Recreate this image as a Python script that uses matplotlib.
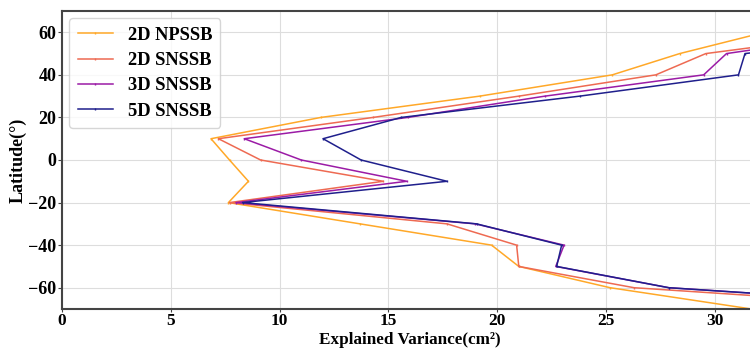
import numpy as np
import matplotlib.pyplot as plt

lat = [60, 50, 40, 30, 20, 10, 0, -10, -20, -30, -40, -50, -60, -70]

npssb_2d = [32.3, 28.4, 25.3, 19.2, 11.9, 6.85, 7.7, 8.57, 7.65, 13.7, 19.75, 21.0, 25.2, 31.7]
snssb_2d = [37.1, 29.6, 27.3, 21.0, 14.3, 7.19, 9.13, 14.77, 7.7, 17.7, 20.9, 21.0, 26.3, 41.1]
snssb_3d = [37.3, 30.55, 29.5, 22.2, 15.9, 8.38, 11.0, 15.85, 8.0, 19.0, 23.08, 22.7, 27.9, 42.8]
snssb_5d = [40.0, 31.4, 31.1, 23.8, 15.6, 12.0, 13.75, 17.7, 8.3, 19.06, 22.97, 22.74, 27.9, 42.8]

plt.rcParams['font.family'] = ['Liberation Serif', 'DejaVu Serif']
plt.rcParams['font.weight'] = 'bold'

fig = plt.figure(figsize=(7.5, 3.49), dpi=100)
ax = fig.add_axes([0.0827, 0.1146, 0.9173, 0.8539])

ax.plot(npssb_2d, lat, color='#FFA828', lw=1.1, marker='|', ms=2, label='2D NPSSB')
ax.plot(snssb_2d, lat, color='#EE6A52', lw=1.1, marker='|', ms=2, label='2D SNSSB')
ax.plot(snssb_3d, lat, color='#9B1BA6', lw=1.1, marker='|', ms=2, label='3D SNSSB')
ax.plot(snssb_5d, lat, color='#1F1F8C', lw=1.1, marker='|', ms=2, label='5D SNSSB')

ax.set_xlim(0, 31.63)
ax.set_ylim(-70, 70)
ax.set_xticks([0, 5, 10, 15, 20, 25, 30])
ax.set_yticks([-60, -40, -20, 0, 20, 40, 60])
ax.grid(True, color='#dddddd', lw=0.8)
ax.set_axisbelow(True)

for s in ['left', 'bottom', 'top']:
    ax.spines[s].set_color('#444444')
    ax.spines[s].set_linewidth(1.5)
ax.spines['right'].set_visible(False)

ax.tick_params(axis='y', labelsize=13, length=3, pad=1, color='#444444')
ax.tick_params(axis='x', labelsize=12.5, length=2.5, pad=0.5, color='#444444')
ax.set_xlabel('Explained Variance(cm²)', fontsize=12.3, fontweight='bold')
ax.xaxis.set_label_coords(0.505, -0.076)
ax.set_ylabel('Latitude(°)', fontsize=13, fontweight='bold', labelpad=1)

ax.legend(loc='upper left', prop={'weight': 'bold', 'size': 13.3},
          handlelength=1.9, handletextpad=0.8, borderpad=0.45, labelspacing=0.45,
          borderaxespad=0.4, framealpha=0.8)

fig.savefig('out.png', dpi=100)
